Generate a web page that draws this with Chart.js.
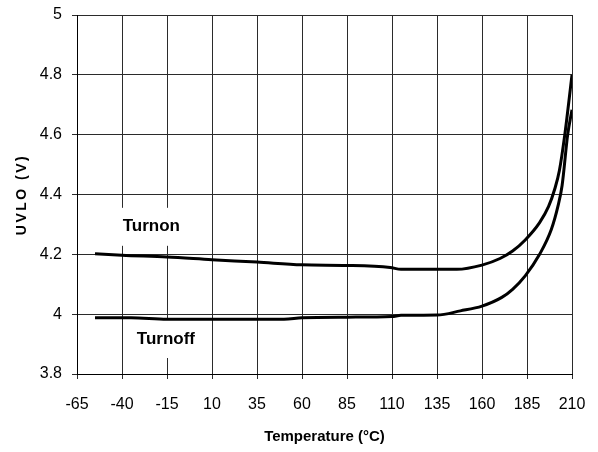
<!DOCTYPE html>
<html>
<head>
<meta charset="utf-8">
<script src="https://cdn.jsdelivr.net/npm/chart.js@4/dist/chart.umd.min.js"></script>
<style>
  html, body { margin: 0; padding: 0; background: #fff; }
  #wrap { width: 598px; height: 452px; }
</style>
</head>
<body>
<div id="wrap"><canvas id="uvloChart"></canvas></div>
<script>
// axis tick labels
const tempTicks = [-65, -40, -15, 10, 35, 60, 85, 110, 135, 160, 185, 210];
const voltTicks = [3.8, 4, 4.2, 4.4, 4.6, 4.8, 5];

// Turnon threshold vs temperature
const turnonTemp = [-55, -40, -15, 10, 35, 60, 85, 109, 115, 135, 146, 160, 170, 177, 184, 192, 197, 200.5, 203, 206, 210];
const turnonVolts = [4.202, 4.197, 4.191, 4.182, 4.174, 4.165, 4.163, 4.156, 4.15, 4.15, 4.15, 4.164, 4.186, 4.211, 4.248, 4.306, 4.36, 4.42, 4.48, 4.6, 4.8];

// Turnoff threshold vs temperature
const turnoffTemp = [-55, -35, -15, 10, 35, 50, 60, 85, 110, 115, 135, 148, 160, 171, 177, 184, 192, 198.5, 202.2, 204.5, 207.6, 210];
const turnoffVolts = [3.988, 3.988, 3.983, 3.983, 3.983, 3.983, 3.988, 3.99, 3.992, 3.996, 3.997, 4.011, 4.027, 4.056, 4.083, 4.128, 4.2, 4.283, 4.361, 4.43, 4.6, 4.683];

const FONT = "'Liberation Sans', Arial, sans-serif";
const gridColor = "#2b2b2b";

Chart.defaults.font.family = FONT;
Chart.defaults.color = "#000";

const toPoints = (xs, ys) => xs.map((x, i) => ({ x, y: ys[i] }));

// curve names sit in white boxes that hide the grid behind them
const curveLabels = {
  id: "curveLabels",
  beforeDatasetsDraw(chart) {
    const { ctx, scales: { x, y } } = chart;
    const spots = [
      { text: "Turnon", t: -23.7, v: 4.292, w: 100, h: 38 },
      { text: "Turnoff", t: -15.6, v: 3.917, w: 76, h: 38 }
    ];
    ctx.save();
    ctx.font = "bold 17px " + FONT;
    ctx.textAlign = "center";
    ctx.textBaseline = "middle";
    spots.forEach((s) => {
      const px = x.getPixelForValue(s.t);
      const py = y.getPixelForValue(s.v);
      ctx.fillStyle = "#fff";
      ctx.fillRect(px - s.w / 2, py - s.h / 2, s.w, s.h);
      ctx.fillStyle = "#000";
      ctx.fillText(s.text, px, py);
    });
    ctx.restore();
  }
};

// y title is letter-spaced, so it is drawn here instead of by the scale
const yTitle = {
  id: "yTitle",
  afterDraw(chart) {
    const { ctx, chartArea } = chart;
    ctx.save();
    ctx.translate(22, (chartArea.top + chartArea.bottom) / 2);
    ctx.rotate(-Math.PI / 2);
    ctx.font = "bold 14px " + FONT;
    ctx.letterSpacing = "2.5px";
    ctx.fillStyle = "#000";
    ctx.textAlign = "center";
    ctx.textBaseline = "middle";
    ctx.fillText("UVLO (V)", 0, 0);
    ctx.restore();
  }
};

new Chart(document.getElementById("uvloChart"), {
  type: "line",
  data: {
    datasets: [
      { label: "Turnon", data: toPoints(turnonTemp, turnonVolts), borderColor: "#000", borderWidth: 3 },
      { label: "Turnoff", data: toPoints(turnoffTemp, turnoffVolts), borderColor: "#000", borderWidth: 3 }
    ]
  },
  options: {
    responsive: true,
    maintainAspectRatio: false,
    animation: false,
    layout: { padding: { top: 15, right: 26, left: 0, bottom: 0 } },
    elements: {
      line: { cubicInterpolationMode: "monotone", fill: false },
      point: { radius: 0 }
    },
    plugins: {
      legend: { display: false },
      tooltip: { enabled: false }
    },
    scales: {
      x: {
        type: "linear",
        min: -65,
        max: 210,
        afterBuildTicks: (axis) => { axis.ticks = tempTicks.map((value) => ({ value })); },
        afterFit: (axis) => {
          axis.height = 78;
          axis.paddingLeft = 0;
          axis.paddingRight = 0;
        },
        grid: { color: gridColor, tickLength: 5 },
        border: { color: "#000" },
        ticks: {
          font: { size: 16 },
          padding: 16,
          maxRotation: 0,
          autoSkip: false,
          callback: (v) => String(v)
        },
        title: {
          display: true,
          text: "Temperature (°C)",
          font: { size: 15, weight: "bold" },
          padding: { top: 0, bottom: 6 }
        }
      },
      y: {
        type: "linear",
        min: 3.8,
        max: 5,
        afterBuildTicks: (axis) => { axis.ticks = voltTicks.map((value) => ({ value })); },
        afterFit: (axis) => {
          axis.width = 77;
          axis.paddingTop = 0;
          axis.paddingBottom = 0;
        },
        grid: { color: gridColor, tickLength: 5 },
        border: { color: "#000" },
        ticks: {
          font: { size: 16 },
          padding: 10,
          callback: (v) => String(v)
        }
      }
    }
  },
  plugins: [curveLabels, yTitle]
});
</script>
</body>
</html>
